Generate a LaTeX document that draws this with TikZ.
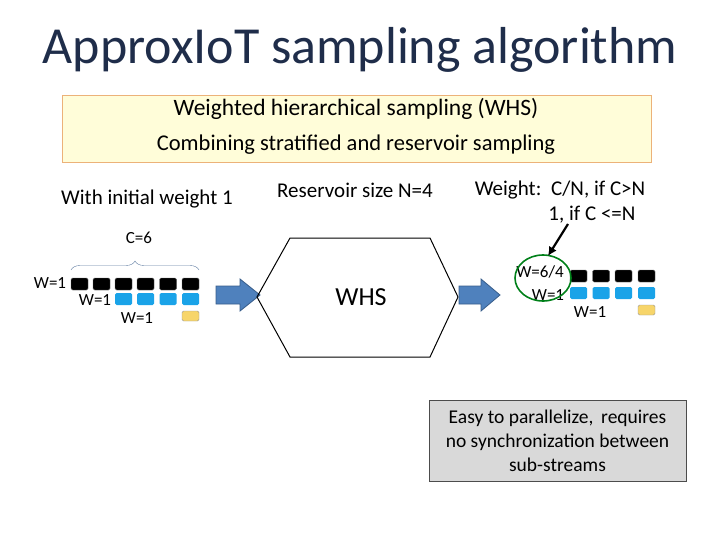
\documentclass[tikz,border=0pt]{standalone}
\usepackage{fontspec}
\setmainfont{Carlito}
\usetikzlibrary{decorations.pathreplacing,arrows.meta}
\definecolor{titlec}{HTML}{1F2D4A}
\definecolor{sqblue}{HTML}{1AA3E8}
\definecolor{sqyel}{HTML}{F7D56A}
\definecolor{arr}{HTML}{4F81BD}
\definecolor{arrb}{HTML}{385D8A}
\begin{document}
\begin{tikzpicture}[x=1pt,y=-1pt,
  blk/.style={fill=black,draw=black!60,rounded corners=1.5pt,minimum width=17pt,minimum height=12pt,inner sep=0pt},
  blu/.style={fill=sqblue,draw=none,rounded corners=1.5pt,minimum width=17pt,minimum height=12pt,inner sep=0pt},
  yel/.style={fill=sqyel,draw=black!40,rounded corners=1.5pt,minimum width=17pt,minimum height=10pt,inner sep=0pt},
  lbl/.style={font=\fontsize{17}{19}\selectfont,inner sep=0pt},
  txt/.style={font=\fontsize{21}{25}\selectfont,inner sep=0pt},
  barr/.style={fill=arr,draw=arrb,line width=0.8pt}]
\useasboundingbox (0,0) rectangle (720,540);
\node[font=\fontsize{52}{58}\selectfont,text=titlec] (title) at (360,50) {ApproxIoT sampling algorithm};
\node[fill=orange!10!yellow!15,draw=orange!50!brown!60,minimum width=589pt,minimum height=67pt] (box) at (356.5,128.5) {};
\node[txt,font=\fontsize{23.5}{27}\selectfont] (t1) at (356,109) {Weighted hierarchical sampling (WHS)};
\node[txt,font=\fontsize{22.5}{26}\selectfont] (t2) at (356,145) {Combining stratified and reservoir sampling};
\node[txt] (iw) at (147,199) {With initial weight 1};
\node[txt] (rs) at (355,190) {Reservoir size N=4};
\node[txt] (wt) at (560,190) {Weight:\, C/N, if C>N};
\node[txt] (wt2) at (592,215) {1, if C <=N};
% left group
\node[lbl] (c6) at (139,238) {C=6};
\draw[draw=arrb!80,decorate,decoration={brace,amplitude=9pt}] (71,270) -- (199,270);
\foreach \i/\x in {1/79.5,2/101.5,3/123.5,4/145.5,5/168,6/190.5}{\node[blk] (lb\i) at (\x,284) {};}
\foreach \i/\x in {3/123.5,4/145.5,5/168,6/190.5}{\node[blu] (lu\i) at (\x,299) {};}
\node[yel] (ly) at (190.5,316) {};
\node[lbl] (lw1) at (50,283) {W=1};
\node[lbl] (lw2) at (95,300) {W=1};
\node[lbl] (lw3) at (137,318) {W=1};
\draw[barr] (216,286) -- (240,286) -- (240,279) -- (260,295) -- (240,311) -- (240,304) -- (216,304) -- cycle;
% hexagon
\draw[line width=1pt] (257,297) -- (290,238) -- (430,238) -- (458,297) -- (430,357) -- (290,357) -- cycle;
\node[font=\fontsize{26}{30}\selectfont] (whs) at (361,297) {WHS};
\draw[barr] (459,286) -- (481,286) -- (481,279) -- (500,295) -- (481,311) -- (481,304) -- (459,304) -- cycle;
% right group
\foreach \i/\x in {1/578.5,2/601,3/623.5,4/646.5}{\node[blk] (rb\i) at (\x,276) {};\node[blu] (ru\i) at (\x,293) {};}
\node[yel] (ry) at (646.5,310) {};
\node[lbl] (rw1) at (540,272) {W=6/4};
\node[lbl] (rw2) at (548,295) {W=1};
\node[lbl] (rw3) at (590,312) {W=1};
\draw[draw=green!50!black!80!teal,line width=1.6pt] (543,278) ellipse (28 and 23);
\coordinate (tip) at (548,256);
\draw[line width=2.2pt,-{Latex[length=9pt,width=9pt]}] (568,224) -- (tip);
% note
\node[fill=black!15,draw=black!70,minimum width=257pt,minimum height=81pt,align=center,font=\fontsize{19.5}{24}\selectfont] (note) at (557.5,440.5) {Easy to parallelize,\, requires\\no synchronization between\\sub-streams};
\end{tikzpicture}
\end{document}
